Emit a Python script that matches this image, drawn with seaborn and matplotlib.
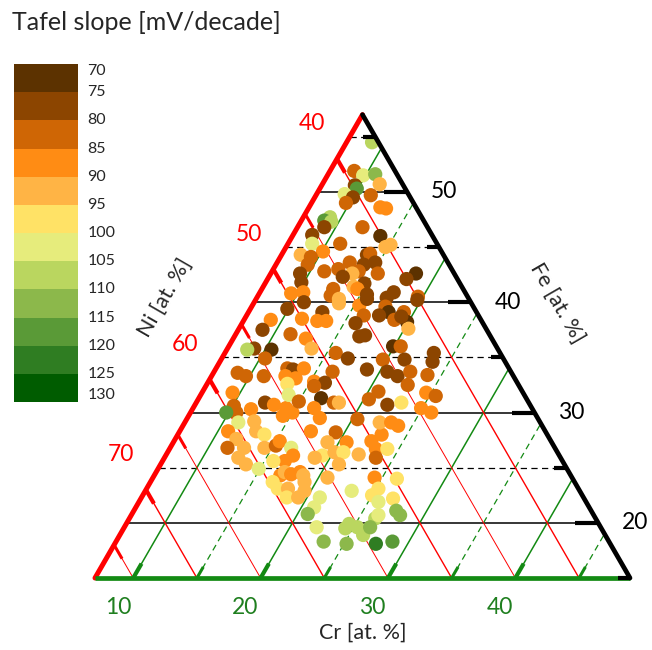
import numpy as np
import matplotlib
matplotlib.use("Agg")
import matplotlib.pyplot as plt
from matplotlib.colors import ListedColormap, Normalize
from matplotlib.cm import ScalarMappable
import seaborn as sns

sns.set_style("white")
plt.rcParams['font.family'] = ['Lato', 'DejaVu Sans']

# Composition of each sample [at. %] (Ni = 100 - Cr - Fe) and its Tafel slope [mV/decade]
cr = [9.0, 8.9, 9.8, 10.7, 11.5, 9.6, 9.9, 9.2, 10.0, 11.3, 9.7, 12.6, 13.1, 9.1, 8.8, 9.4,
      9.1, 12.1, 8.5, 13.9, 8.9, 11.1, 14.8, 15.1, 10.1, 8.5, 9.4, 9.5, 13.7, 13.9, 14.7, 12.7,
      13.9, 12.1, 11.1, 13.8, 13.4, 15.4, 12.8, 9.3, 9.8, 18.4, 17.9, 14.8, 14.1, 14.5, 12.6,
      9.5, 10.4, 12.7, 13.5, 15.5, 17.5, 17.2, 19.6, 10.9, 9.9, 12.8, 13.7, 15.4, 15.7, 17.5,
      18.0, 19.2, 19.7, 9.1, 11.5, 12.8, 13.5, 16.2, 15.9, 17.4, 18.8, 19.9, 20.3, 19.2, 8.9,
      11.3, 12.7, 13.6, 16.8, 17.2, 9.1, 8.6, 10.5, 10.4, 15.7, 16.9, 19.9, 20.5, 21.4, 19.7,
      23.4, 23.7, 8.9, 9.7, 11.1, 12.6, 13.1, 13.9, 12.8, 13.7, 15.3, 16.3, 16.2, 13.3, 18.9,
      20.6, 21.6, 22.4, 23.9, 9.4, 10.1, 10.6, 9.8, 11.6, 12.4, 13.2, 14.3, 15.0, 14.4, 13.9,
      15.0, 15.5, 16.6, 16.5, 17.4, 17.8, 18.2, 20.4, 20.8, 22.1, 23.1, 22.8, 24.6, 25.5, 24.9,
      25.9, 20.4, 11.2, 12.4, 10.8, 13.0, 13.8, 11.8, 11.5, 12.8, 14.4, 15.2, 15.3, 16.5, 17.0,
      16.6, 15.7, 12.8, 13.7, 17.3, 19.3, 19.1, 20.6, 19.3, 20.1, 20.8, 18.8, 21.0, 22.1, 22.5,
      23.0, 22.3, 23.2, 23.9, 23.2, 24.1, 23.6, 14.9, 16.9, 17.1, 17.7, 18.3, 18.7, 16.6, 17.3,
      18.1, 19.1, 18.4, 19.3, 19.5, 20.7, 24.4, 26.2, 25.2, 25.0, 23.2, 21.0, 21.0, 26.8, 25.8,
      20.8, 27.6, 28.1, 26.3, 26.4, 24.5, 24.4, 25.3, 26.1, 26.3, 22.1, 23.3, 25.2, 27.5, 28.7]
fe = [54.5, 51.9, 51.5, 51.6, 50.7, 50.6, 50.3, 49.8, 49.5, 49.7, 49.0, 48.6, 48.5, 47.7, 47.4,
      47.3, 46.8, 46.8, 46.1, 46.0, 45.3, 45.3, 45.0, 45.2, 44.6, 44.3, 44.1, 43.4, 44.3, 44.4,
      43.6, 43.6, 43.4, 43.0, 42.8, 42.8, 42.6, 42.6, 42.3, 42.6, 41.8, 42.6, 42.1, 41.7, 41.4,
      41.2, 41.2, 40.8, 40.9, 40.6, 40.3, 40.7, 40.9, 40.4, 40.5, 40.0, 39.4, 39.1, 39.9, 39.7,
      40.3, 39.6, 39.1, 39.1, 40.2, 38.4, 38.5, 38.3, 38.3, 38.8, 38.1, 38.8, 38.4, 38.2, 37.6,
      38.7, 37.5, 37.1, 36.7, 35.8, 36.9, 37.0, 35.8, 35.7, 35.7, 34.9, 35.4, 34.9, 36.0, 36.0,
      34.8, 34.8, 35.4, 34.6, 33.6, 33.3, 33.3, 34.0, 33.9, 34.0, 33.3, 33.1, 32.8, 33.7, 32.7,
      32.6, 33.9, 33.7, 33.3, 33.7, 33.4, 31.8, 30.6, 30.0, 30.0, 30.3, 30.9, 30.7, 30.4, 30.0,
      29.7, 31.6, 31.0, 32.4, 31.3, 30.4, 29.5, 30.9, 30.9, 31.2, 31.9, 30.7, 30.9, 32.5, 31.8,
      31.5, 30.4, 30.0, 29.4, 29.1, 29.2, 28.3, 28.3, 28.0, 27.6, 26.8, 26.8, 26.8, 27.0, 27.4,
      26.8, 26.1, 25.6, 25.6, 25.9, 25.3, 28.3, 28.2, 27.3, 27.3, 26.1, 26.4, 26.4, 25.9, 25.3,
      26.2, 27.4, 28.0, 29.1, 29.1, 28.8, 26.7, 26.7, 25.9, 24.9, 24.3, 24.6, 24.4, 24.6, 24.3,
      23.7, 23.1, 23.1, 23.7, 22.3, 22.3, 22.9, 24.1, 24.1, 24.0, 23.1, 22.5, 22.9, 22.3, 21.4,
      22.2, 21.9, 20.8, 21.1, 20.7, 20.4, 20.7, 19.9, 19.5, 19.6, 18.9, 19.6, 19.6, 18.3, 18.1,
      18.1, 18.3]
tafel = [107, 82, 102, 112, 92, 77, 117, 102, 77, 82, 82, 87, 87, 107, 117, 107, 77, 82, 77, 72,
         102, 82, 92, 92, 87, 92, 82, 82, 77, 82, 77, 82, 77, 82, 82, 82, 92, 82, 77, 77, 77, 72,
         77, 77, 92, 87, 82, 87, 87, 82, 92, 77, 77, 77, 82, 77, 77, 77, 92, 87, 77, 82, 72, 82,
         77, 87, 87, 87, 87, 82, 77, 77, 82, 72, 92, 77, 77, 82, 87, 92, 77, 77, 77, 107, 72, 82,
         82, 77, 72, 82, 77, 82, 77, 77, 82, 82, 82, 82, 77, 87, 87, 87, 87, 82, 77, 97, 77, 77,
         77, 82, 82, 87, 82, 82, 117, 87, 77, 87, 87, 87, 87, 102, 82, 82, 72, 87, 87, 82, 92, 82,
         82, 77, 97, 82, 87, 82, 87, 87, 82, 102, 92, 87, 92, 97, 92, 82, 92, 92, 82, 87, 102, 87,
         87, 97, 92, 92, 87, 82, 92, 87, 97, 92, 97, 92, 92, 92, 87, 87, 92, 87, 87, 87, 97, 82,
         102, 87, 92, 87, 87, 92, 97, 97, 92, 92, 97, 92, 92, 92, 87, 97, 97, 97, 102, 102, 102,
         97, 102, 112, 112, 112, 107, 102, 107, 107, 107, 107, 112, 102, 112, 112, 122, 117]

# Discrete colour scale, 5 mV/decade per band
scale_colors = ['#5c3200', '#8c4500', '#cf6605', '#ff8c14', '#ffb445', '#ffe266',
                '#e6ec7c', '#bad65f', '#8cb84b', '#5a9a37', '#2f7d22', '#005c00']
scale_ticks = list(range(70, 131, 5))

ni_ticks = [40, 45, 50, 55, 60, 65, 70, 75]
fe_ticks = [15, 20, 25, 30, 35, 40, 45, 50, 55]
cr_ticks = [10, 15, 20, 25, 30, 35, 40, 45]
ni_labels = [40, 50, 60, 70]
fe_labels = [50, 40, 30, 20]
cr_labels = [10, 20, 30, 40]

# Zoomed ternary window: Cr >= 7, Fe >= 15, Ni >= 36 (side of 42 at. %)
CR0, FE0, NI0 = 7.0, 15.0, 36.0
SIDE = 100.0 - CR0 - FE0 - NI0
H = np.sqrt(3) / 2

RED = '#ff0000'
GREEN = '#138a13'
GREEN_TXT = '#1f7f1f'


def tern(c, f):
    c = np.asarray(c, dtype=float) - CR0
    f = np.asarray(f, dtype=float) - FE0
    return c + f / 2.0, f * H


cmap = ListedColormap(scale_colors)
norm = Normalize(vmin=scale_ticks[0], vmax=scale_ticks[-1])

W, HT = 652, 650
fig = plt.figure(figsize=(W / 100, HT / 100), dpi=100)
ax = fig.add_axes([0, 0, 1, 1])
k = 535.0 / SIDE                       # pixels per at. %
ox, oy = 95.0, 578.0                   # pixel position of the lower-left corner
ax.set_xlim(-ox / k, (W - ox) / k)
ax.set_ylim(-(HT - oy) / k, oy / k)
ax.set_aspect('equal')
ax.axis('off')

# ---- grid lines ----
for f in fe_ticks[1:]:
    (x0, y0) = tern(CR0, f)
    (x1, y1) = tern(100 - NI0 - f, f)
    if f % 10 == 0:
        ax.plot([x0, x1], [y0, y1], color='black', lw=1.1, zorder=1)
    else:
        ax.plot([x0, x1], [y0, y1], color='black', lw=0.9, ls=(0, (5, 3.5)), zorder=1)
for c in cr_ticks:
    (x0, y0) = tern(c, FE0)
    (x1, y1) = tern(c, 100 - NI0 - c)
    if c % 10 == 0:
        ax.plot([x0, x1], [y0, y1], color=GREEN, lw=1.1, zorder=1)
    else:
        ax.plot([x0, x1], [y0, y1], color=GREEN, lw=0.9, ls=(0, (5, 3.5)), zorder=1)
for n in ni_ticks:
    (x0, y0) = tern(CR0, 100 - CR0 - n)
    (x1, y1) = tern(100 - FE0 - n, FE0)
    ax.plot([x0, x1], [y0, y1], color=RED, lw=1.0 if n % 10 == 0 else 0.7, zorder=1)

# ---- samples ----
px, py = tern(cr, fe)
sns.scatterplot(x=px, y=py, hue=tafel, palette=cmap, hue_norm=norm, s=105,
                linewidth=0, alpha=1.0, legend=False, ax=ax, zorder=3)

# ---- triangle edges ----
A = tern(CR0, 100 - CR0 - NI0)     # top corner (Fe max)
B = tern(CR0, FE0)                 # lower-left corner (Ni max)
C = tern(100 - FE0 - NI0, FE0)     # lower-right corner (Cr max)
ax.plot([B[0], A[0]], [B[1], A[1]], color=RED, lw=3.6, solid_capstyle='round', zorder=5)
ax.plot([B[0], C[0]], [B[1], C[1]], color=GREEN, lw=3.4, solid_capstyle='butt', zorder=5)
ax.plot([A[0], C[0]], [A[1], C[1]], color='black', lw=3.4, solid_capstyle='round', zorder=5)

# ---- ticks ----
for n in ni_ticks:
    x, y = tern(CR0, 100 - CR0 - n)
    L = 1.25
    ax.plot([x, x + 0.5 * L], [y, y - H * L], color=RED,
            lw=3.0 if n % 10 == 0 else 2.2, solid_capstyle='butt', zorder=5)
for f in fe_ticks:
    x, y = tern(100 - NI0 - f, f)
    L = 1.8 if f % 10 == 0 else 0.95
    ax.plot([x, x - L], [y, y], color='black', lw=3.0, solid_capstyle='butt', zorder=5)
for c in cr_ticks:
    x, y = tern(c, FE0)
    L = 1.3 if c % 10 == 0 else 1.0
    ax.plot([x, x + 0.5 * L], [y, y + H * L], color=GREEN,
            lw=3.0 if c % 10 == 0 else 2.2, solid_capstyle='butt', zorder=5)

# ---- tick labels ----
for n in ni_labels:
    x, y = tern(CR0, 100 - CR0 - n)
    ax.text(x - 1.95, y + 2.75, str(n), color=RED, fontsize=16.5, ha='center', va='center')
for f in fe_labels:
    x, y = tern(100 - NI0 - f, f)
    ax.text(x + 2.9, y, str(f), color='black', fontsize=16.5, ha='center', va='center')
for c in cr_labels:
    x, y = tern(c, FE0)
    ax.text(x - 1.2, y - 2.35, str(c), color=GREEN_TXT, fontsize=16.5, ha='center', va='center')

# ---- axis titles ----
ax.text((165 - ox) / k, (oy - 298) / k, 'Ni [at. %]', fontsize=15.5, rotation=60,
        ha='center', va='center', rotation_mode='anchor')
ax.text((557 - ox) / k, (oy - 303) / k, 'Fe [at. %]', fontsize=15.5, rotation=-60,
        ha='center', va='center', rotation_mode='anchor')
ax.text((363 - ox) / k, (oy - 633) / k, 'Cr [at. %]', fontsize=15.5,
        ha='center', va='center')

# ---- colour scale ----
cax = fig.add_axes([14 / W, 1 - 402 / HT, 64 / W, 338 / HT])
cb = fig.colorbar(ScalarMappable(norm=norm, cmap=cmap), cax=cax, ticks=scale_ticks)
cb.outline.set_visible(False)
cax.invert_yaxis()
cax.set_yticklabels([])
cax.tick_params(length=0)
tr = cax.get_yaxis_transform()
for v in scale_ticks:
    va = 'center'
    if v == scale_ticks[0]:
        va = 'top'
    elif v == scale_ticks[-1]:
        va = 'bottom'
    cax.text(1.15, v, str(v), transform=tr, fontsize=11.5, ha='left', va=va)

fig.text(12 / W, 1 - 23 / HT, 'Tafel slope [mV/decade]', fontsize=18, ha='left', va='center')

fig.savefig('out.png', dpi=100)
